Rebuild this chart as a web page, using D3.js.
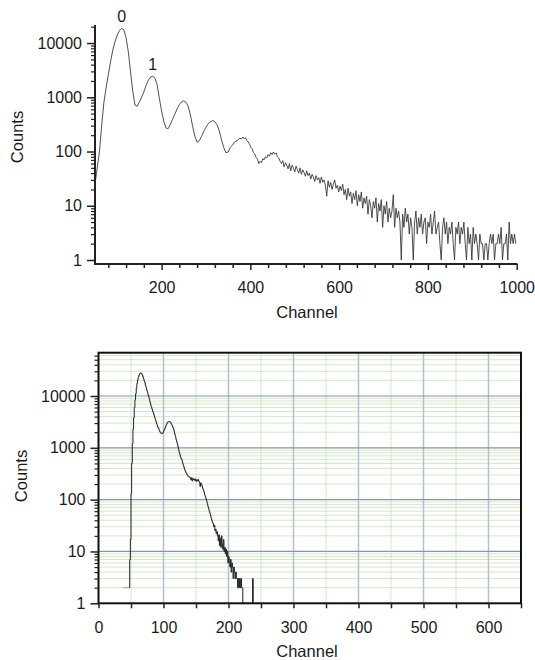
<!DOCTYPE html>
<html>
<head>
<meta charset="utf-8">
<script src="https://cdn.jsdelivr.net/npm/d3@7"></script>
<style>
  html, body { margin: 0; padding: 0; background: #fff; }
  svg { display: block; }
  text { font-family: "Liberation Sans", Arial, Helvetica, sans-serif; fill: #1a1a1a; }
</style>
</head>
<body>
<svg id="chart" width="535" height="660"></svg>
<script>
// ---------------- DATA ----------------
// Top spectrum, smooth part: counts every 5 channels from channel 50
const topHeadStart = 50;
const topHeadStep = 5;
const topHeadCounts = [
  25, 50, 100, 300, 800, 1500, 2600, 4500, 7400, 10500,
  14000, 17000, 18700, 17500, 12500, 7000, 3000, 1300, 720, 680,
  820, 1000, 1250, 1650, 2050, 2350, 2450, 2250, 1700, 950,
  560, 360, 270, 265, 320, 400, 490, 610, 730, 820,
  860, 810, 680, 470, 290, 190, 148, 158, 190, 235,
  280, 325, 355, 372, 355, 310, 240, 165, 118, 95,
  98, 120, 132, 152, 158, 175
];
// Top spectrum, noisy tail: counts every 3 channels from channel 380
const topTailStart = 380;
const topTailStep = 3;
const topTailCounts = [
  172, 185, 170, 180, 160, 150, 138, 120, 112, 95,
  90, 78, 72, 60, 66, 62, 74, 70, 80, 76,
  88, 82, 95, 88, 98, 90, 94, 80, 76, 66,
  60, 68, 52, 62, 56, 48, 60, 44, 56, 50,
  42, 54, 46, 40, 50, 38, 46, 41, 35, 44,
  36, 40, 31, 38, 34, 28, 36, 30, 33, 26,
  34, 27, 30, 24, 15, 29, 22, 27, 20, 25,
  30, 21, 24, 18, 23, 19, 25, 16, 20, 13,
  21, 15, 18, 11, 17, 13, 19, 10, 16, 12,
  18, 9, 14, 11, 15, 7, 13, 10, 6, 12,
  9, 14, 5, 11, 8, 13, 4, 10, 7, 12,
  5, 9, 6, 8, 16, 4, 9, 6, 8, 5,
  1, 7, 4, 9, 5, 7, 3, 6, 4, 1,
  5, 8, 3, 6, 4, 7, 3, 5, 6, 2,
  5, 4, 7, 3, 5, 8, 3, 4, 5, 2,
  1, 4, 6, 3, 5, 2, 4, 3, 5, 2,
  1, 4, 3, 5, 2, 4, 3, 5, 2, 1,
  4, 2, 3, 1, 4, 2, 3, 2, 1, 3,
  2, 2, 1, 2, 2, 1, 2, 3, 2, 3,
  1, 2, 2, 3, 2, 4, 1, 2, 2, 3,
  1, 5, 2, 3, 2, 3, 2
];
const topXTicks = [200, 400, 600, 800, 1000];
const topXMinorTicks = [80, 120, 160, 240, 280, 320, 360, 440, 480, 520, 560, 640, 680, 720, 760, 840, 880, 920, 960];
const topYTicks = [1, 10, 100, 1000, 10000];
const topPeakLabels = ["0", "1"];
const topPeakChannels = [110, 180];
const topPeakCounts = [18700, 2450];

// Bottom spectrum: counts every channel starting at channel 38
const botStartChannel = 38;
const botCounts = [
  2, 2, 2, 2, 2, 2, 2, 2, 2, 2,
  7, 17, 130, 500, 1200, 2300, 3800, 6000, 8400, 11000,
  14000, 17500, 20500, 23000, 25000, 26500, 27500, 27800, 27000, 25500,
  23500, 21500, 19500, 18000, 16000, 14500, 13000, 11800, 10500, 9700,
  8600, 7600, 6800, 6100, 5600, 5100, 4700, 4300, 3900, 3550,
  3250, 2950, 2700, 2500, 2380, 2200, 2050, 1960, 1900, 1880,
  1900, 1980, 2100, 2250, 2420, 2600, 2800, 2980, 3100, 3180,
  3220, 3200, 3120, 3000, 2850, 2700, 2500, 2350, 2100, 1850,
  1650, 1450, 1320, 1180, 1050, 920, 820, 730, 660, 620,
  580, 520, 470, 430, 390, 360, 340, 320, 300, 290,
  280, 275, 270, 260, 240, 265, 230, 255, 245, 250,
  235, 250, 225, 240, 230, 245, 228, 215, 180, 210,
  195, 185, 165, 155, 140, 125, 115, 105, 95, 85,
  75, 68, 60, 55, 50, 44, 40, 36, 35, 30,
  32, 25, 27, 22, 24, 20, 16, 21, 13, 18,
  12, 20, 14, 11, 17, 10, 12, 9, 11, 8,
  10, 6, 8, 7, 5, 7, 4, 6, 5, 3,
  5, 4, 3, 4, 3, 3, 2, 3, 2, 3,
  2, 3, 2, 2, 1, 1, 1, 1, 1, 1,
  1, 1, 1, 1, 1, 1, 1, 1, 1, 3,
  1
];
const botXTicks = [0, 100, 200, 300, 400, 500, 600];
const botXMinorTicks = [50, 150, 250, 350, 450, 550, 650];
const botYTicks = [1, 10, 100, 1000, 10000];

const xLabel = "Channel";
const yLabel = "Counts";

// ---------------- DRAW ----------------
const svg = d3.select("#chart");
const fontSize = 16;
const fontFam = "Liberation Sans, Arial, sans-serif";

function minorLogTicks(lo, hi) {
  const out = [];
  for (let e = 0; e <= 5; e++) {
    for (let m = 2; m <= 9; m++) {
      const v = m * Math.pow(10, e);
      if (v >= lo && v <= hi) out.push(v);
    }
  }
  return out;
}

// ===== TOP PANEL =====
(function () {
  const x = d3.scaleLinear().domain([50, 1000]).range([95, 516.7]);
  const y = d3.scaleLog().domain([0.844, 21500]).range([264, 25]);
  const g = svg.append("g");

  const data = topHeadCounts.map((c, i) => ({ ch: topHeadStart + i * topHeadStep, c }))
    .concat(topTailCounts.map((c, i) => ({ ch: topTailStart + i * topTailStep, c })));
  const line = d3.line().x(d => x(d.ch)).y(d => y(d.c));
  g.append("path").datum(data)
    .attr("d", line)
    .attr("fill", "none")
    .attr("stroke", "#303030")
    .attr("stroke-width", 0.85)
    .attr("stroke-linejoin", "round");

  const xMinor = d3.axisBottom(x).tickValues(topXMinorTicks).tickSize(4).tickFormat("");
  g.append("g").attr("transform", "translate(0,264)").call(xMinor)
    .call(s => s.select(".domain").remove())
    .call(s => s.selectAll("line").attr("stroke", "#222").attr("stroke-width", 1.5));
  const xMajor = d3.axisBottom(x).tickValues(topXTicks).tickSize(6).tickPadding(12).tickFormat(d3.format("d"));
  g.append("g").attr("transform", "translate(0,264)").call(xMajor)
    .call(s => s.select(".domain").remove())
    .call(s => s.selectAll("line").attr("stroke", "#222").attr("stroke-width", 1.5))
    .call(s => s.selectAll("text").attr("font-size", fontSize).attr("fill", "#1a1a1a").attr("font-family", fontFam));

  const yMinor = d3.axisLeft(y).tickValues(minorLogTicks(1, 21500)).tickSize(4).tickFormat("");
  g.append("g").attr("transform", "translate(95,0)").call(yMinor)
    .call(s => s.select(".domain").remove())
    .call(s => s.selectAll("line").attr("stroke", "#222").attr("stroke-width", 1.2));
  const yMajor = d3.axisLeft(y).tickValues(topYTicks).tickSize(8).tickPadding(5).tickFormat(d3.format("d"));
  g.append("g").attr("transform", "translate(95,0)").call(yMajor)
    .call(s => s.select(".domain").remove())
    .call(s => s.selectAll("line").attr("stroke", "#222").attr("stroke-width", 1.5))
    .call(s => s.selectAll("text").attr("font-size", fontSize).attr("fill", "#1a1a1a").attr("font-family", fontFam));

  g.append("line").attr("x1", 95).attr("x2", 95).attr("y1", 25).attr("y2", 265)
    .attr("stroke", "#222").attr("stroke-width", 2);
  g.append("line").attr("x1", 94).attr("x2", 517.5).attr("y1", 264).attr("y2", 264)
    .attr("stroke", "#222").attr("stroke-width", 2);

  topPeakLabels.forEach((lab, i) => {
    g.append("text").attr("x", x(topPeakChannels[i])).attr("y", y(topPeakCounts[i]) - 6.5)
      .attr("text-anchor", "middle").attr("font-size", fontSize).text(lab);
  });

  g.append("text").attr("x", 307).attr("y", 317.5).attr("text-anchor", "middle")
    .attr("font-size", 16.5).text(xLabel);
  g.append("text").attr("transform", "translate(23,137) rotate(-90)").attr("text-anchor", "middle")
    .attr("font-size", 16.5).text(yLabel);
})();

// ===== BOTTOM PANEL =====
(function () {
  const left = 98.5, right = 521, top = 352.7, bottom = 603.3;
  const x = d3.scaleLinear().domain([0, 650]).range([left, right]);
  const y = d3.scaleLog().domain([1, 68400]).range([bottom, top]);
  const g = svg.append("g");

  const minorY = minorLogTicks(1, 68400);
  g.append("g").selectAll("line").data(minorY).join("line")
    .attr("x1", left).attr("x2", right).attr("y1", d => y(d)).attr("y2", d => y(d))
    .attr("stroke", "#a6d28e").attr("stroke-width", 1).attr("stroke-dasharray", "1,1");
  g.append("g").selectAll("line").data(botXMinorTicks).join("line")
    .attr("x1", d => x(d)).attr("x2", d => x(d)).attr("y1", top).attr("y2", bottom)
    .attr("stroke", "#a6d28e").attr("stroke-width", 1).attr("stroke-dasharray", "1,1");
  g.append("g").selectAll("line").data(botXTicks.filter(d => d > 0)).join("line")
    .attr("x1", d => x(d)).attr("x2", d => x(d)).attr("y1", top).attr("y2", bottom)
    .attr("stroke", "#b3c0cd").attr("stroke-width", 1.5);
  g.append("g").selectAll("line").data(botYTicks.filter(d => d > 1)).join("line")
    .attr("x1", left).attr("x2", right).attr("y1", d => y(d)).attr("y2", d => y(d))
    .attr("stroke", "#8494b4").attr("stroke-width", 1.2);

  const data = botCounts.map((c, i) => ({ ch: botStartChannel + i, c }));
  const line = d3.line().x(d => x(d.ch)).y(d => y(d.c)).curve(d3.curveStepAfter);
  g.append("path").datum(data.slice(0, 10))
    .attr("d", line).attr("fill", "none").attr("stroke", "#9a9a9a").attr("stroke-width", 1);
  g.append("path").datum(data.slice(9))
    .attr("d", line)
    .attr("fill", "none").attr("stroke", "#222").attr("stroke-width", 1);

  g.append("rect").attr("x", left).attr("y", top).attr("width", right - left).attr("height", bottom - top)
    .attr("fill", "none").attr("stroke", "#111").attr("stroke-width", 2);

  const xMinor = d3.axisBottom(x).tickValues(botXMinorTicks).tickSize(5).tickFormat("");
  g.append("g").attr("transform", `translate(0,${bottom})`).call(xMinor)
    .call(s => s.select(".domain").remove())
    .call(s => s.selectAll("line").attr("stroke", "#222").attr("stroke-width", 1.5));
  const xMajor = d3.axisBottom(x).tickValues(botXTicks).tickSize(5).tickPadding(13).tickFormat(d3.format("d"));
  g.append("g").attr("transform", `translate(0,${bottom})`).call(xMajor)
    .call(s => s.select(".domain").remove())
    .call(s => s.selectAll("line").attr("stroke", "#222").attr("stroke-width", 1.5))
    .call(s => s.selectAll("text").attr("font-size", fontSize).attr("fill", "#1a1a1a").attr("font-family", fontFam));

  const yMinor = d3.axisLeft(y).tickValues(minorY).tickSize(4).tickFormat("");
  g.append("g").attr("transform", `translate(${left},0)`).call(yMinor)
    .call(s => s.select(".domain").remove())
    .call(s => s.selectAll("line").attr("stroke", "#222").attr("stroke-width", 1.2));
  const yMajor = d3.axisLeft(y).tickValues(botYTicks).tickSize(8).tickPadding(5).tickFormat(d3.format("d"));
  g.append("g").attr("transform", `translate(${left},0)`).call(yMajor)
    .call(s => s.select(".domain").remove())
    .call(s => s.selectAll("line").attr("stroke", "#222").attr("stroke-width", 1.5))
    .call(s => s.selectAll("text").attr("font-size", fontSize).attr("fill", "#1a1a1a").attr("font-family", fontFam));

  g.append("text").attr("x", 307).attr("y", 656.5).attr("text-anchor", "middle")
    .attr("font-size", 16.5).text(xLabel);
  g.append("text").attr("transform", "translate(27,476) rotate(-90)").attr("text-anchor", "middle")
    .attr("font-size", 16.5).text(yLabel);
})();
</script>
</body>
</html>
